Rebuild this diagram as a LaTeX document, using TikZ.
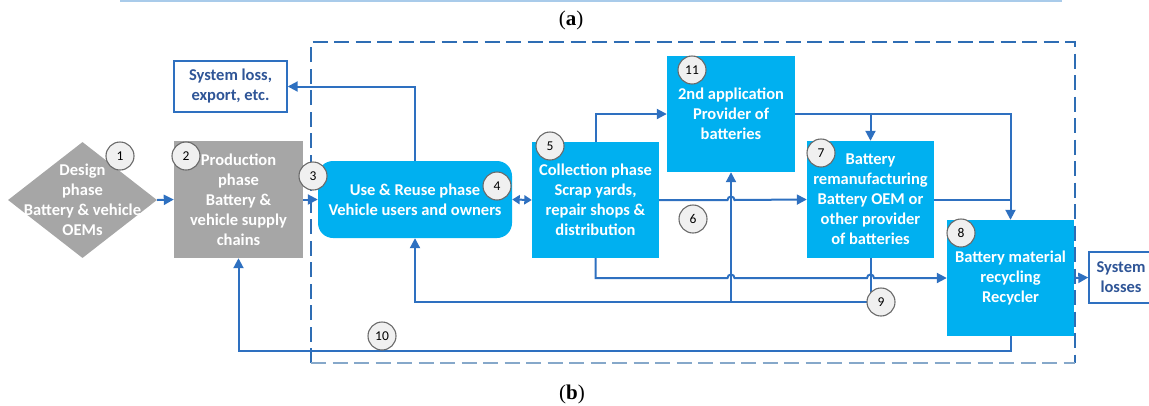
\documentclass[tikz,border=0pt]{standalone}
\usepackage{fontspec}
\setmainfont{Carlito}
\newfontfamily\capfont{Liberation Serif}
\usetikzlibrary{arrows.meta,shapes.geometric,calc}
\definecolor{boxblue}{HTML}{00B0F0}
\definecolor{lineblue}{HTML}{2E70C0}
\definecolor{darkblue}{HTML}{2F5597}
\definecolor{greybox}{HTML}{A6A6A6}
\definecolor{circfill}{HTML}{F0F0F0}
\definecolor{circline}{HTML}{6A6A6A}
\definecolor{toplight}{HTML}{A9CBEA}
\definecolor{dashblue}{HTML}{2E6DB4}
\definecolor{dashlight}{HTML}{86A8CA}
\begin{document}
\begin{tikzpicture}[x=1pt,y=1pt,
  boxtext/.style={font=\bfseries\fontsize{16.5}{20}\selectfont, align=center, text=white},
  bluebox/.style={boxtext, fill=boxblue, inner sep=0pt, anchor=center},
  greyshape/.style={boxtext, fill=greybox, inner sep=0pt, anchor=center},
  outbox/.style={draw=lineblue, line width=1.4pt, fill=white, text=darkblue, font=\bfseries\fontsize{16.5}{20}\selectfont, align=center, inner sep=0pt, anchor=center},
  circ/.style={circle, draw=circline, fill=circfill, line width=1.1pt, minimum size=28pt, inner sep=0pt, font=\fontsize{13.5}{14}\selectfont},
  arr/.style={draw=lineblue, line width=2pt, -{Triangle[length=10pt,width=10pt]}},
  plain/.style={draw=lineblue, line width=2pt},
  dbl/.style={draw=lineblue, line width=2pt, {Triangle[length=7.5pt,width=9pt]}-{Triangle[length=7.5pt,width=9pt]}},
  frame/.style={line width=1.6pt, dash pattern=on 15pt off 6.5pt},
  captext/.style={font=\capfont\fontsize{21}{21}\selectfont}
]
\useasboundingbox (0,0) rectangle (1149,-405);

% remnant of part (a) and captions
\draw[toplight, line width=2pt] (120,-1) -- (1062,-1);
\node[captext] (capa) at (571,-20) {(\textbf{a})};
\node[captext] (capb) at (572,-394) {(\textbf{b})};

% dashed system boundary
\draw[frame, dashblue] (311,-363) -- (311,-42) -- (1075,-42) -- (1075,-363);
\draw[frame, dashlight] (311,-363) -- (1075,-363);

% nodes
\node[diamond, fill=greybox, minimum width=149pt, minimum height=116pt, inner sep=0pt] (diam) at (82.5,-200) {};
\node[boxtext] (diamtext) at (82.5,-200) {Design\\phase\\Battery \& vehicle\\OEMs};
\node[greyshape, minimum width=129pt, minimum height=117pt] (prod) at (238.5,-199.5) {Production\\phase\\Battery \&\\vehicle supply\\chains};
\node[outbox, minimum width=113pt, minimum height=51pt] (sysl) at (230.5,-86.5) {System loss,\\export, etc.};
\node[bluebox, rounded corners=15pt, minimum width=194pt, minimum height=77pt] (use) at (415,-199.5) {Use \& Reuse phase\\Vehicle users and owners};
\node[bluebox, minimum width=127pt, minimum height=116pt] (coll) at (595.5,-200) {Collection phase\\Scrap yards,\\repair shops \&\\distribution};
\node[bluebox, minimum width=128pt, minimum height=116pt] (app) at (731,-114) {2nd application\\Provider of\\batteries};
\node[bluebox, minimum width=127pt, minimum height=117pt] (reman) at (870.5,-199.5) {Battery\\remanufacturing\\Battery OEM or\\other provider\\of batteries};
\node[bluebox, minimum width=127pt, minimum height=116pt] (rec) at (1010.5,-278) {Battery material\\recycling\\Recycler};
\node[outbox, minimum width=64pt, minimum height=51pt] (sloss) at (1121,-277.5) {System\\losses};

% junction coordinates
\coordinate (j9) at (870.5,-302);
\coordinate (j10) at (1010.5,-351);

% connectors
\draw[arr] (diam.east) -- (prod.west);
\draw[arr] (prod.east) -- (use.west);
\draw[arr] (use.north) |- (sysl.east);
\draw[dbl] (use.east) -- (coll.west);
\draw[arr] (coll.north) |- (app.west);
\draw[arr] (app.east) -| (rec.north);
\draw[arr] (reman.north |- app.east) -- (reman.north);
\draw[arr] (coll.east) -- ($(app.south |- coll.east)+(-3.5,0)$)
   arc[start angle=180, end angle=0, radius=3.5pt] -- (reman.west);
\draw[plain] (reman.east) -- (rec.north |- reman.east);
\draw[arr] (coll.south) -- (coll.south |- rec.west)
   -- ($(app.south |- rec.west)+(-3.5,0)$) arc[start angle=180, end angle=0, radius=3.5pt]
   -- ($(reman.south |- rec.west)+(-3.5,0)$) arc[start angle=180, end angle=0, radius=3.5pt]
   -- (rec.west);
\draw[arr] (reman.south) -- (j9) -| (use.south);
\draw[arr] (app.south |- j9) -- (app.south);
\draw[arr] (rec.south) -- (j10) -| (prod.south);
\draw[arr] (rec.east) -- (sloss.west);

% step numbers
\node[circ] (c1) at (120,-156) {1};
\node[circ] (c2) at (186,-156) {2};
\node[circ] (c3) at (313,-176) {3};
\node[circ] (c4) at (497,-186) {4};
\node[circ] (c5) at (550,-146) {5};
\node[circ] (c6) at (693,-219) {6};
\node[circ] (c7) at (821,-153) {7};
\node[circ] (c8) at (961,-233) {8};
\node[circ] (c9) at (881,-302) {9};
\node[circ] (c10) at (382,-336) {10};
\node[circ] (c11) at (692,-70) {11};
\end{tikzpicture}
\end{document}
